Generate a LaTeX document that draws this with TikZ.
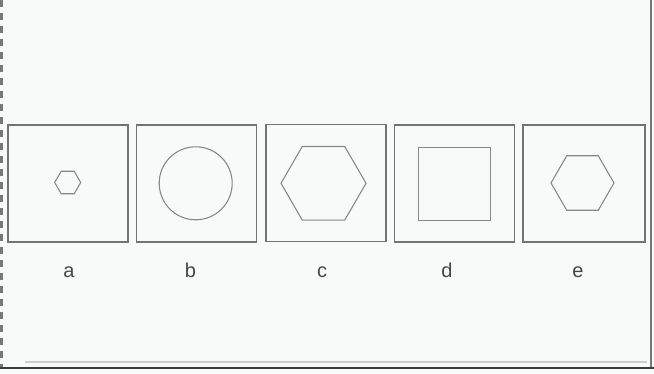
\documentclass[tikz,border=0pt]{standalone}
\usepackage{fontspec}
\setmainfont{Liberation Sans}
\usetikzlibrary{shapes.geometric}
\definecolor{bgc}{RGB}{248,249,249}
\definecolor{boxc}{RGB}{115,115,115}
\definecolor{shpc}{RGB}{135,135,135}
\definecolor{txtc}{RGB}{70,70,70}
\definecolor{edgec}{RGB}{120,120,120}
\definecolor{basec}{RGB}{60,60,60}
\definecolor{faintc}{RGB}{205,205,205}
\tikzset{
  framebox/.style={draw=boxc, line width=1.1pt, minimum width=90pt, minimum height=87.75pt, inner sep=0pt},
  hexshape/.style={draw=shpc, line width=0.8pt, regular polygon, regular polygon sides=6, inner sep=0pt},
  roundshape/.style={draw=shpc, line width=0.8pt, circle, inner sep=0pt},
  squareshape/.style={draw=shpc, line width=0.8pt, rectangle, inner sep=0pt},
  lbl/.style={text=txtc, font=\fontsize{15}{17}\selectfont, anchor=base, inner sep=0pt}
}
\begin{document}
\begin{tikzpicture}[x=0.75pt, y=-0.75pt]
  \fill[bgc] (0,0) rectangle (654,374);
  \useasboundingbox (0,0) rectangle (654,374);
  % frame lines
  \coordinate (lt) at (1.5,0);
  \coordinate (lb) at (1.5,368);
  \coordinate (rt) at (651,0);
  \coordinate (rb) at (651,368);
  \coordinate (bl) at (0,368);
  \coordinate (br) at (654,368);
  \coordinate (fl) at (25,362);
  \coordinate (fr) at (647,362);
  \draw[edgec, line width=1.6pt, dash pattern=on 5.25pt off 4.5pt] (lt) -- (lb);
  \draw[edgec, line width=1.4pt] (rt) -- (rb);
  \draw[faintc, line width=0.8pt] (fl) -- (fr);
  \draw[basec, line width=1.8pt] (bl) -- (br);
  % boxes
  \node[framebox] (boxa) at (68,183.5) {};
  \node[framebox] (boxb) at (196.5,183.5) {};
  \node[framebox] (boxc) at (326,183) {};
  \node[framebox] (boxd) at (454.5,183.5) {};
  \node[framebox, minimum width=91.5pt] (boxe) at (584,183.5) {};
  % shapes
  \node[hexshape, minimum size=19.5pt] (hexa) at (67.7,182.5) {};
  \node[roundshape, minimum size=54.75pt] (circb) at (195.7,183.3) {};
  \node[hexshape, minimum size=63.75pt] (hexc) at (323.5,183.3) {};
  \node[squareshape, minimum size=54.5pt] (sqd) at (454.5,184) {};
  \node[hexshape, minimum size=47.25pt] (hexe) at (582.5,183) {};
  % labels
  \node[lbl] (la) at (69,277) {a};
  \node[lbl] (lb2) at (190.5,277) {b};
  \node[lbl] (lc) at (322,277) {c};
  \node[lbl] (ld) at (447,277) {d};
  \node[lbl] (le) at (578,277) {e};
\end{tikzpicture}
\end{document}
